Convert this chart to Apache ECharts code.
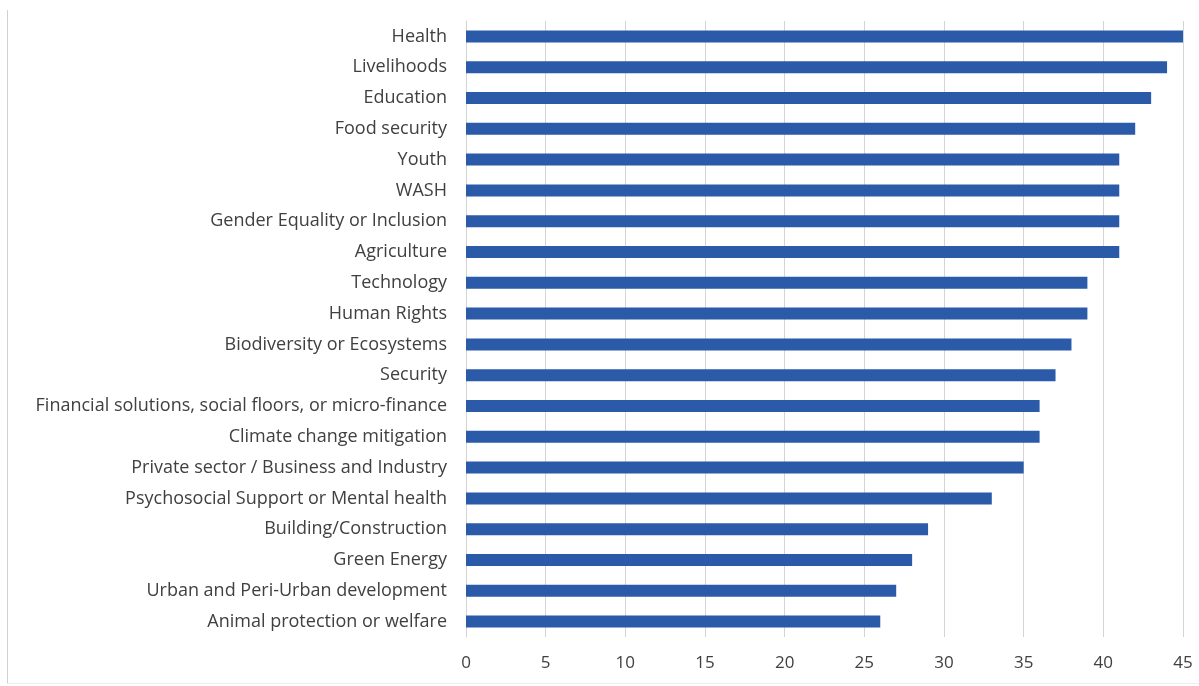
<!DOCTYPE html>
<html>
<head>
<meta charset="utf-8">
<script src="https://cdn.jsdelivr.net/npm/echarts@6/dist/echarts.min.js"></script>
<style>html,body{margin:0;padding:0;background:#fff}#c{width:1199px;height:686px}</style>
</head>
<body>
<div id="c"></div>
<script>
const categories = [
  "Animal protection or welfare",
  "Urban and Peri-Urban development",
  "Green Energy",
  "Building/Construction",
  "Psychosocial Support or Mental health",
  "Private sector / Business and Industry",
  "Climate change mitigation",
  "Financial solutions, social floors, or micro-finance",
  "Security",
  "Biodiversity or Ecosystems",
  "Human Rights",
  "Technology",
  "Agriculture",
  "Gender Equality or Inclusion",
  "WASH",
  "Youth",
  "Food security",
  "Education",
  "Livelihoods",
  "Health"
];
const values = [26, 27, 28, 29, 33, 35, 36, 36, 37, 38, 39, 39, 41, 41, 41, 41, 42, 43, 44, 45];
const xTicks = { min: 0, max: 45, interval: 5 };

const chart = echarts.init(document.getElementById('c'), null, { renderer: 'canvas' });
chart.setOption({
  animation: false,
  backgroundColor: '#ffffff',
  grid: { left: 466, right: 16, top: 21, bottom: 49, containLabel: false },
  xAxis: {
    type: 'value', min: xTicks.min, max: xTicks.max, interval: xTicks.interval,
    axisLine: { show: false }, axisTick: { show: false },
    axisLabel: { color: '#404040', fontSize: 17, fontFamily: 'Open Sans', margin: 18 },
    splitLine: { show: true, lineStyle: { color: '#d4d4d4', width: 1 } }
  },
  yAxis: {
    type: 'category', data: categories,
    axisLine: { show: true, lineStyle: { color: '#d4d4d4' } },
    axisTick: { show: false },
    axisLabel: { color: '#404040', fontSize: 18, fontFamily: 'Open Sans', margin: 19 }
  },
  series: [{
    type: 'bar', data: values, barWidth: 12,
    itemStyle: { color: '#2a5aa8' }
  }],
  graphic: [
    { type: 'line', shape: { x1: 7.5, y1: 10, x2: 7.5, y2: 683 }, style: { stroke: '#d0d0d0', lineWidth: 1 } },
    { type: 'line', shape: { x1: 7, y1: 683.5, x2: 1199, y2: 683.5 }, style: { stroke: '#ececec', lineWidth: 1 } }
  ]
});
</script>
</body>
</html>
